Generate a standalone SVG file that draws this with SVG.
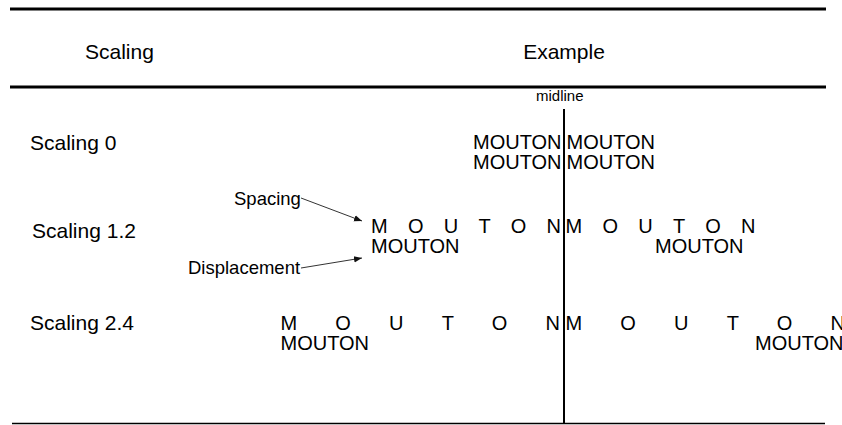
<svg xmlns="http://www.w3.org/2000/svg" width="842" height="425" viewBox="0 0 842 425">
<style>
text{font-family:"Liberation Sans",Arial,sans-serif;fill:#000}
.hd{font-size:21px}
.lb{font-size:21px}
.w{font-size:20px}
.ann{font-size:18.5px}
.mid{font-size:15px}
.rule{stroke:#000;fill:none}
.arr{stroke:#333;stroke-width:1;fill:none;marker-end:url(#ah)}
.last{letter-spacing:0}
</style>
<defs>
<marker id="ah" viewBox="0 0 10 10" refX="10" refY="5" markerWidth="8" markerHeight="8" markerUnits="userSpaceOnUse" orient="auto">
<path d="M0,1 L10,5 L0,9 z" fill="#111"/>
</marker>
</defs>
<g id="rules">
<line class="rule" x1="10" y1="9" x2="826" y2="9" stroke-width="3"/>
<line class="rule" x1="10" y1="87" x2="826" y2="87" stroke-width="3"/>
<line class="rule" x1="12" y1="423.5" x2="825" y2="423.5" stroke-width="1.5"/>
</g>
<g id="header">
<text class="hd" x="85" y="59">Scaling</text>
<text class="hd" x="564" y="59" text-anchor="middle">Example</text>
</g>
<g id="midline">
<line class="rule" x1="564" y1="109" x2="564" y2="423" stroke-width="2"/>
<text class="mid" x="536" y="101">midline</text>
</g>
<g id="row0">
<text class="lb" x="30" y="150">Scaling 0</text>
<text class="w" x="561.5" y="149" text-anchor="end">MOUTON</text>
<text class="w" x="566.5" y="149">MOUTON</text>
<text class="w" x="561.5" y="169" text-anchor="end">MOUTON</text>
<text class="w" x="566.5" y="169">MOUTON</text>
</g>
<g id="row12">
<text class="lb" x="32" y="238">Scaling 1.2</text>
<text class="w" x="371" y="233" letter-spacing="20.3">MOUTO<tspan class="last">N</tspan></text>
<text class="w" x="565.5" y="233" letter-spacing="20.3">MOUTO<tspan class="last">N</tspan></text>
<text class="w" x="371" y="253">MOUTON</text>
<text class="w" x="655" y="253">MOUTON</text>
</g>
<g id="row24">
<text class="lb" x="30" y="330">Scaling 2.4</text>
<text class="w" x="280.5" y="330" letter-spacing="38.2">MOUTO<tspan class="last">N</tspan></text>
<text class="w" x="565.5" y="330" letter-spacing="38.2">MOUTO<tspan class="last">N</tspan></text>
<text class="w" x="280.5" y="350">MOUTON</text>
<text class="w" x="755" y="350">MOUTON</text>
</g>
<g id="annotations">
<text class="ann" x="234" y="205">Spacing</text>
<text class="ann" x="188" y="274">Displacement</text>
</g>
<g id="connectors">
<line class="arr" x1="301" y1="198" x2="362" y2="221"/>
<line class="arr" x1="301" y1="268" x2="362" y2="258"/>
</g>
</svg>
